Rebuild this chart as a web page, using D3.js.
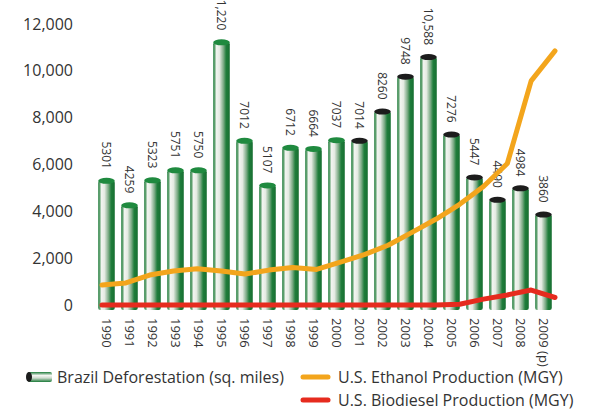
<!DOCTYPE html>
<html>
<head>
<meta charset="utf-8">
<script src="https://cdn.jsdelivr.net/npm/d3@7"></script>
<style>
  body { margin: 0; background: #fff; }
  svg { display: block; font-family: "Open Sans", "DejaVu Sans", sans-serif; }
</style>
</head>
<body>
<svg id="chart" width="591" height="410"></svg>
<script>
// chart data
const years = ['1990', '1991', '1992', '1993', '1994', '1995', '1996', '1997', '1998', '1999',
               '2000', '2001', '2002', '2003', '2004', '2005', '2006', '2007', '2008', '2009 (p)'];
const deforestation = [5301, 4259, 5323, 5751, 5750, 11220, 7012, 5107, 6712, 6664,
                       7037, 7014, 8260, 9748, 10588, 7276, 5447, 4490, 4984, 3860];
const barLabels = ['5301', '4259', '5323', '5751', '5750', '11,220', '7012', '5107', '6712', '6664',
                   '7037', '7014', '8260', '9748', '10,588', '7276', '5447', '4490', '4984', '3860'];
const ethanol = [850, 940, 1280, 1450, 1550, 1450, 1320, 1490, 1600, 1520,
                 1830, 2150, 2550, 3100, 3660, 4300, 5060, 6040, 9570, 10850];
const biodiesel = [0, 0, 0, 0, 0, 0, 0, 0, 0, 0,
                   0, 0, 0, 0, 0, 30, 250, 430, 640, 320];
const yTicks = [0, 2000, 4000, 6000, 8000, 10000, 12000];

(function() {
    const svg = d3.select('#chart');

    // Scales
    const x = d3.scaleBand()
        .domain(years)
        .range([95, 555])
        .paddingInner(0.28)
        .paddingOuter(0.14);

    // the lines run a little wider than the bars
    const xLine = d3.scalePoint()
        .domain(years)
        .range([102, 555]);

    const y = d3.scaleLinear()
        .domain([0, 12000])
        .range([305, 24]);

    // Bar gradient
    const defs = svg.append('defs');
    const grad = defs.append('linearGradient')
        .attr('id', 'barGrad')
        .attr('x1', 0).attr('x2', 1).attr('y1', 0).attr('y2', 0);
    [['0%', '#1b7a38'], ['8%', '#5d9f6d'], ['20%', '#f3f5f1'], ['38%', '#e4eae2'],
     ['62%', '#7aaa84'], ['78%', '#1f7d3b'], ['100%', '#176f31']].forEach(s => {
        grad.append('stop').attr('offset', s[0]).attr('stop-color', s[1]);
    });
    const legGrad = defs.append('linearGradient')
        .attr('id', 'legGrad')
        .attr('x1', 0).attr('x2', 0).attr('y1', 0).attr('y2', 1);
    [['0%', '#1b7a38'], ['35%', '#f3f5f1'], ['60%', '#cfdccf'], ['100%', '#1b7a38']].forEach(s => {
        legGrad.append('stop').attr('offset', s[0]).attr('stop-color', s[1]);
    });

    // Y axis labels
    const yAxis = svg.append('g')
        .attr('transform', 'translate(73,0)')
        .call(d3.axisLeft(y).tickValues(yTicks).tickSize(0).tickPadding(0).tickFormat(d3.format(',')));
    yAxis.select('.domain').remove();
    yAxis.selectAll('text')
        .attr('font-size', 16)
        .attr('font-family', '"Open Sans", sans-serif')
        .attr('fill', '#333');

    // Bars
    const bars = svg.append('g').attr('class', 'bars');
    const bw = x.bandwidth();
    years.forEach((yr, i) => {
        const bx = x(yr);
        const top = y(deforestation[i]);
        const bottom = y(0) + 5;
        bars.append('rect')
            .attr('x', bx)
            .attr('y', top)
            .attr('width', bw)
            .attr('height', bottom - top)
            .attr('rx', 2)
            .attr('fill', 'url(#barGrad)');
        bars.append('ellipse')
            .attr('cx', bx + bw / 2)
            .attr('cy', top)
            .attr('rx', bw / 2)
            .attr('ry', 3)
            .attr('fill', i >= 11 ? '#1c1c1c' : '#1f8a3f');
    });

    // Value labels (rotated, reading downward)
    svg.append('g').selectAll('text')
        .data(years)
        .join('text')
        .attr('transform', (d, i) => `translate(${x(d) + bw / 2},${y(deforestation[i]) - 12}) rotate(90)`)
        .attr('text-anchor', 'end')
        .attr('dy', '0.35em')
        .attr('font-size', 12)
        .attr('fill', '#333')
        .text((d, i) => barLabels[i]);

    // Year labels
    svg.append('g').selectAll('text')
        .data(years)
        .join('text')
        .attr('transform', d => `translate(${x(d) + bw / 2},318) rotate(90)`)
        .attr('text-anchor', 'start')
        .attr('dy', '0.35em')
        .attr('font-size', 13)
        .attr('fill', '#333')
        .text(d => d);

    // Lines
    const line = d3.line()
        .x((d, i) => xLine(years[i]))
        .y(d => y(d));

    svg.append('path')
        .datum(biodiesel)
        .attr('d', line)
        .attr('fill', 'none')
        .attr('stroke', '#e62b1e')
        .attr('stroke-width', 5)
        .attr('stroke-linecap', 'round')
        .attr('stroke-linejoin', 'round');

    svg.append('path')
        .datum(ethanol)
        .attr('d', line)
        .attr('fill', 'none')
        .attr('stroke', '#f3a51c')
        .attr('stroke-width', 5)
        .attr('stroke-linecap', 'round')
        .attr('stroke-linejoin', 'round');

    // Legend
    const legend = svg.append('g').attr('font-size', 16).attr('fill', '#333');

    legend.append('rect')
        .attr('x', 28).attr('y', 372).attr('width', 24).attr('height', 10)
        .attr('rx', 2)
        .attr('fill', 'url(#legGrad)');
    legend.append('ellipse')
        .attr('cx', 29).attr('cy', 377).attr('rx', 3).attr('ry', 5)
        .attr('fill', '#1c1c1c');
    legend.append('text')
        .attr('x', 57).attr('y', 377).attr('dy', '0.35em')
        .text('Brazil Deforestation (sq. miles)');

    legend.append('line')
        .attr('x1', 303).attr('x2', 328).attr('y1', 377).attr('y2', 377)
        .attr('stroke', '#f3a51c').attr('stroke-width', 5).attr('stroke-linecap', 'round');
    legend.append('text')
        .attr('x', 338).attr('y', 377).attr('dy', '0.35em')
        .text('U.S. Ethanol Production (MGY)');

    legend.append('line')
        .attr('x1', 303).attr('x2', 328).attr('y1', 400).attr('y2', 400)
        .attr('stroke', '#e62b1e').attr('stroke-width', 5).attr('stroke-linecap', 'round');
    legend.append('text')
        .attr('x', 338).attr('y', 400).attr('dy', '0.35em')
        .text('U.S. Biodiesel Production (MGY)');
})();
</script>
</body>
</html>
